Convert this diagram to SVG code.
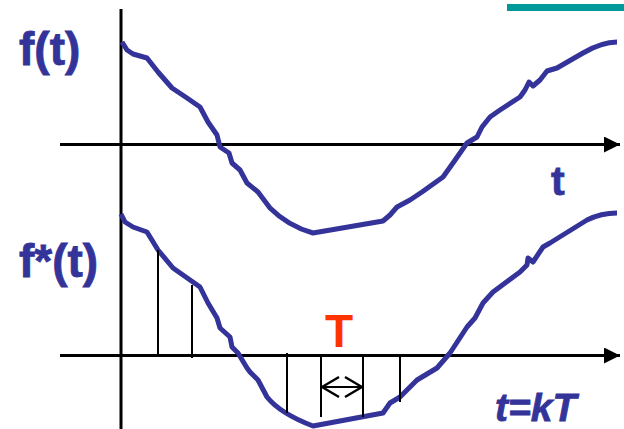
<svg xmlns="http://www.w3.org/2000/svg" width="624" height="429" viewBox="0 0 624 429">
<defs>
<style>
.ax{stroke:#000;stroke-width:3;fill:none}
.smp{stroke:#000;stroke-width:2;fill:none}
.crv{stroke:#333399;stroke-width:5;fill:none;stroke-linejoin:round;stroke-linecap:butt}
.lbl{font-family:"Liberation Sans",Arial,sans-serif;font-weight:bold;fill:#333399;stroke:#333399;stroke-width:0.8}
</style>
<marker id="ah" markerWidth="16" markerHeight="16" viewBox="0 0 16 16" refX="16" refY="8" orient="auto" markerUnits="userSpaceOnUse">
<path d="M0,0 L16,8 L0,16 Z" fill="#000"/>
</marker>
<marker id="va" markerWidth="20" markerHeight="24" viewBox="0 0 20 24" refX="19" refY="12" orient="auto-start-reverse" markerUnits="userSpaceOnUse">
<path d="M2,2 L19,12 L2,22" fill="none" stroke="#000" stroke-width="2.5"/>
</marker>
</defs>
<rect width="624" height="429" fill="#fff"/>
<rect id="teal" x="507" y="4" width="117" height="7" fill="#009999"/>
<g id="axes">
<line class="ax" x1="121" y1="9" x2="121" y2="429"/>
<line class="ax" x1="60" y1="144.5" x2="620" y2="144.5" marker-end="url(#ah)"/>
<line class="ax" x1="60" y1="355.5" x2="620" y2="355.5" marker-end="url(#ah)"/>
</g>
<g id="top-curve">
<path class="crv" d="M122,42 L127,50 L133,54 L147,58 L158,72 L172,88 L187,98 L200,107 L208,122 L217,135 L220,147 L229,153 L232,163 L240,170 L247,183 L258,192 L270,208 C280,218 295,228 313,233 L383,221 L390,215 L397,207 L410,200 L422,192 L443,177 L453,163 L467,143 L477,137 L482,127 L490,117 L500,110 L520,97 L525,90 L529,82 L533,86 L540,80 L547,71 L557,68 L583,53 C595,46 605,42 617,42"/>
</g>
<g id="bottom-curve">
<path class="crv" d="M121,214 L125,222 L133,227 L147,232 L158,250 L173,268 L200,287 L208,303 L217,318 L220,328 L230,337 L232,347 L238,353 L247,368 L250,372 L258,380 L267,397 C275,407 292,418 313,426 L383,413 L390,403 L400,397 L417,380 L437,368 L450,353 L467,327 L475,318 L483,303 L493,292 L520,272 L527,265 L528,258 L533,262 L543,247 L550,243 L587,220 C597,215 607,213 617,213"/>
</g>
<g id="samples">
<line class="smp" x1="158" y1="250" x2="158" y2="356"/>
<line class="smp" x1="192" y1="285" x2="192" y2="358"/>
<line class="smp" x1="287" y1="353" x2="287" y2="413"/>
<line class="smp" x1="321" y1="355" x2="321" y2="417"/>
<line class="smp" x1="363" y1="355" x2="363" y2="417"/>
<line class="smp" x1="400" y1="355" x2="400" y2="402"/>
</g>
<g id="period">
<line class="smp" x1="322" y1="387" x2="362" y2="387" marker-start="url(#va)" marker-end="url(#va)"/>
</g>
<g id="labels">
<text class="lbl" x="19" y="65" font-size="46">f(t)</text>
<text class="lbl" x="19" y="277" font-size="46">f*(t)</text>
<text class="lbl" x="551" y="195" font-size="41">t</text>
<text x="325" y="347" font-size="46" font-family="'Liberation Sans',Arial,sans-serif" font-weight="bold" fill="#FF3300">T</text>
<text class="lbl" x="495" y="421" font-size="39" font-style="italic">t=kT</text>
</g>
</svg>
